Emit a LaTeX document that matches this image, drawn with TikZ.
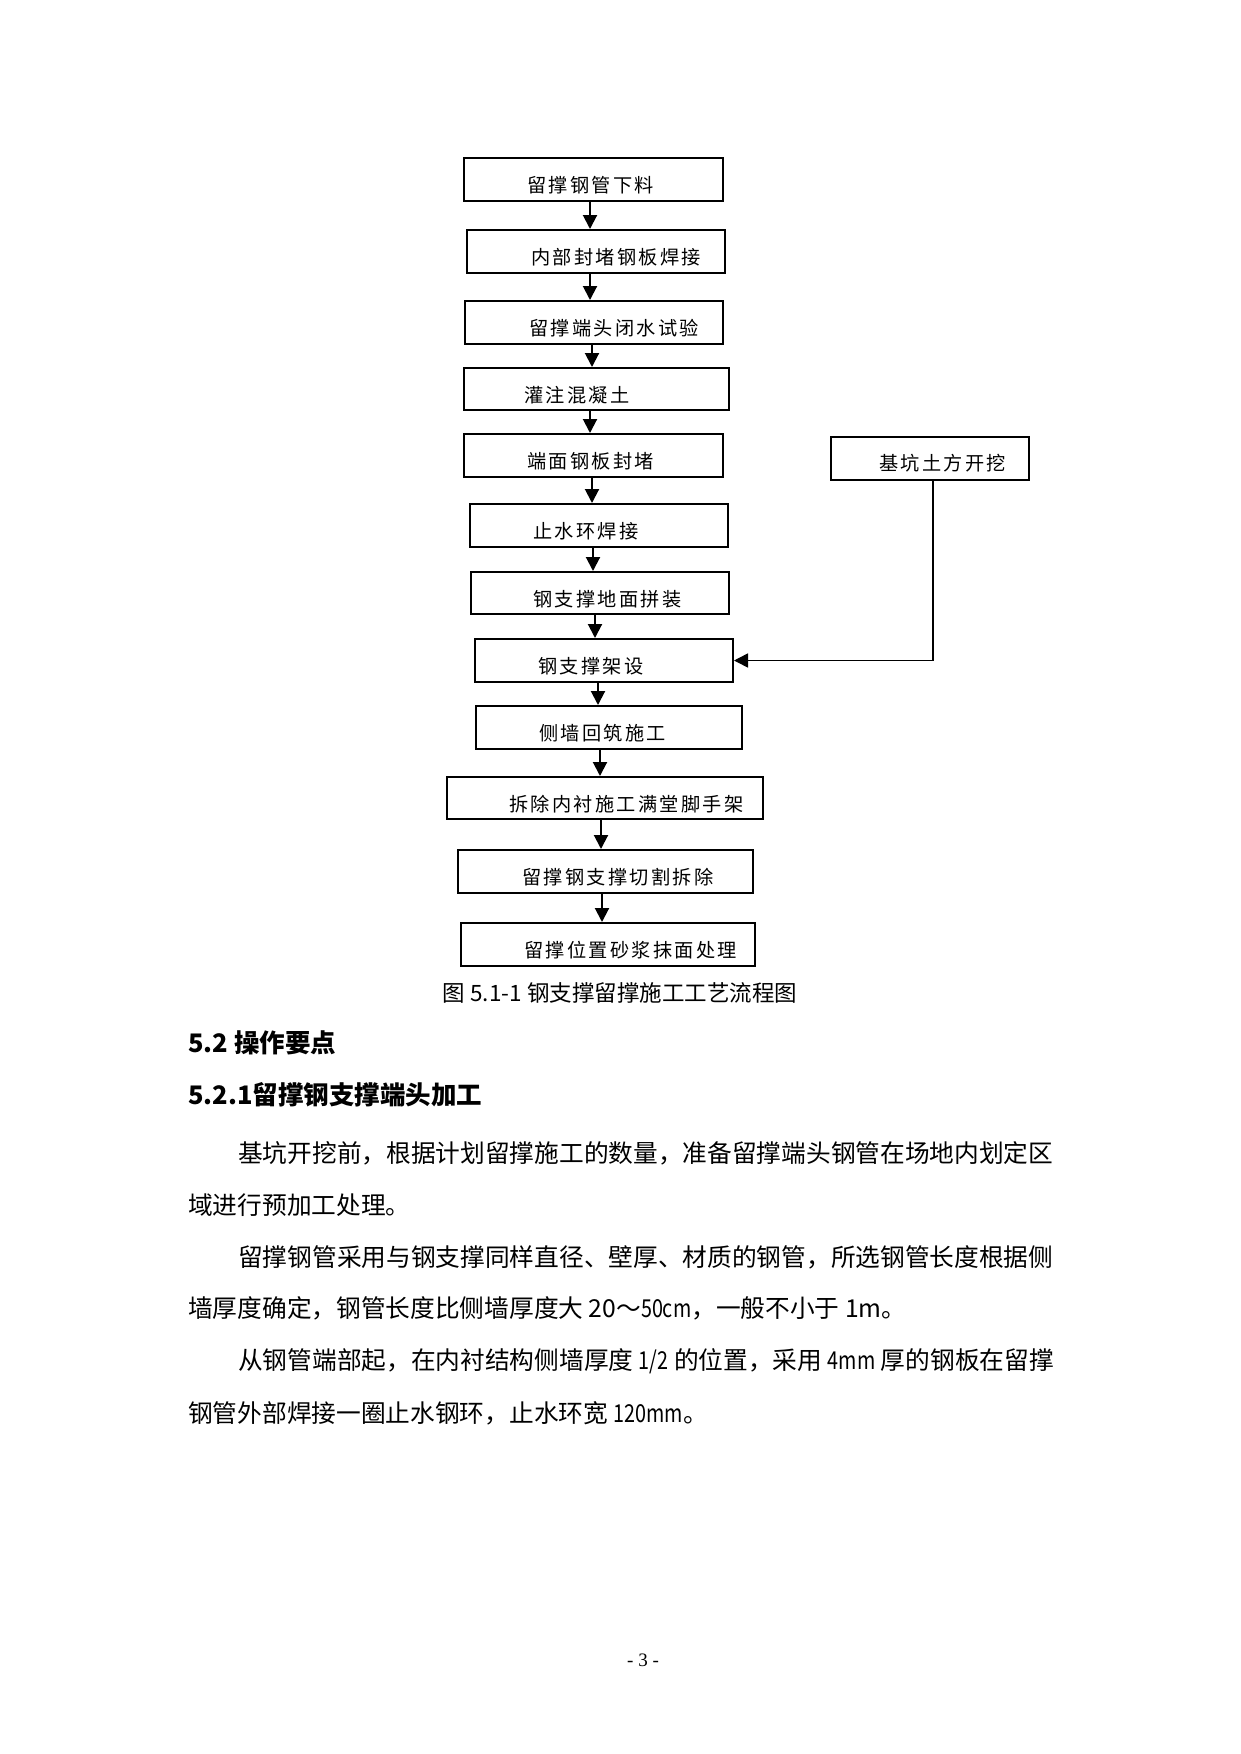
\documentclass[tikz,border=0pt]{standalone}
\usepackage{fontspec}
\setmainfont{Liberation Serif}
\newfontfamily\cjk{Noto Sans CJK SC}
\newfontfamily\cjkwide[LetterSpace=12]{Noto Sans CJK SC}
\usetikzlibrary{arrows.meta,positioning}
\newcommand\nar[1]{\scalebox{0.8}[1]{#1}}
\tikzset{
  stepbox/.style={draw=black,line width=2pt,minimum height=43pt,inner sep=0pt},
  steptxt/.style={anchor=west,inner sep=0pt,font=\cjkwide\fontsize{19.2pt}{24pt}\selectfont},
  flow/.style={-{Triangle[length=14pt,width=14pt]},line width=2pt},
  bodyline/.style={anchor=base west,inner sep=0pt,font=\cjk\fontsize{24.7pt}{30pt}\selectfont},
  headline/.style={anchor=base west,inner sep=0pt,font=\cjk\bfseries\fontsize{25.5pt}{30pt}\selectfont},
}
\begin{document}
\begin{tikzpicture}[x=1pt,y=-1pt]
  \useasboundingbox (0,0) rectangle (1240,1754);
  \fill[white] (0,0) rectangle (1240,1754);
  % main chain
  \node[stepbox,minimum width=259pt] (s1) at (593.5,179.5) {};
  \node[stepbox,minimum width=258pt] (s2) at (596,251.5) {};
  \node[stepbox,minimum width=258pt] (s3) at (594,322.5) {};
  \node[stepbox,minimum width=265pt,minimum height=42pt] (s4) at (596.5,389) {};
  \node[stepbox,minimum width=259pt] (s5) at (593.5,455.5) {};
  \node[stepbox,minimum width=258pt] (s6) at (599,525.5) {};
  \node[stepbox,minimum width=258pt,minimum height=42pt] (s7) at (600,593) {};
  \node[stepbox,minimum width=258pt] (s8) at (604,660.5) {};
  \node[stepbox,minimum width=266pt] (s9) at (609,727.5) {};
  \node[stepbox,minimum width=316pt,minimum height=42pt] (s10) at (605,798) {};
  \node[stepbox,minimum width=295pt] (s11) at (605.5,871.5) {};
  \node[stepbox,minimum width=294pt] (s12) at (608,944.5) {};
  \node[stepbox,minimum width=198pt] (dig) at (930,458.5) {};
  % labels
  \node[steptxt] (t1) at ([xshift=64pt,yshift=-6pt]s1.west) {留撑钢管下料};
  \node[steptxt] (t2) at ([xshift=65pt,yshift=-6pt]s2.west) {内部封堵钢板焊接};
  \node[steptxt] (t3) at ([xshift=65pt,yshift=-6pt]s3.west) {留撑端头闭水试验};
  \node[steptxt] (t4) at ([xshift=61pt,yshift=-6pt]s4.west) {灌注混凝土};
  \node[steptxt] (t5) at ([xshift=64pt,yshift=-6pt]s5.west) {端面钢板封堵};
  \node[steptxt] (t6) at ([xshift=64pt,yshift=-6pt]s6.west) {止水环焊接};
  \node[steptxt] (t7) at ([xshift=63pt,yshift=-6pt]s7.west) {钢支撑地面拼装};
  \node[steptxt] (t8) at ([xshift=64pt,yshift=-6pt]s8.west) {钢支撑架设};
  \node[steptxt] (t9) at ([xshift=64pt,yshift=-6pt]s9.west) {侧墙回筑施工};
  \node[steptxt] (t10) at ([xshift=63pt,yshift=-6pt]s10.west) {拆除内衬施工满堂脚手架};
  \node[steptxt] (t11) at ([xshift=65pt,yshift=-6pt]s11.west) {留撑钢支撑切割拆除};
  \node[steptxt] (t12) at ([xshift=64pt,yshift=-6pt]s12.west) {留撑位置砂浆抹面处理};
  \node[steptxt] (tdig) at ([xshift=49pt,yshift=-5pt]dig.west) {基坑土方开挖};
  \foreach \a/\b/\x in {s1/s2/-3.5,s2/s3/-6,s3/s4/-2,s4/s5/-6.5,s5/s6/-1.5,s6/s7/-6,
                        s7/s8/-5,s8/s9/-6,s9/s10/-9,s10/s11/-4,s11/s12/-3.5}{
    \draw[flow] ([xshift=\x pt]\a.south) -- ([xshift=\x pt]\a.south |- \b.north);
  }
  \draw[flow,line width=1.6pt] ([xshift=3pt]dig.south) |- (s8.east);
  \node[font=\cjk\fontsize{22.5pt}{26pt}\selectfont,inner sep=0pt] (cap) at (620,993) {图 5.1-1 钢支撑留撑施工工艺流程图};
  % text below
  \node[headline] (h1) at (188,1052) {5.2 操作要点};
  \node[headline] (h2) at (188,1104) {5.2.1留撑钢支撑端头加工};
  \node[bodyline] (l1) at (238,1162) {基坑开挖前，根据计划留撑施工的数量，准备留撑端头钢管在场地内划定区};
  \node[bodyline] (l2) at (188,1214) {域进行预加工处理。};
  \node[bodyline] (l3) at (238,1266) {留撑钢管采用与钢支撑同样直径、壁厚、材质的钢管，所选钢管长度根据侧};
  \node[bodyline] (l4) at (188,1317) {墙厚度确定，钢管长度比侧墙厚度大 20～\nar{50cm}，一般不小于 1m。};
  \node[bodyline] (l5) at (238,1369) {从钢管端部起，在内衬结构侧墙厚度 \nar{1/2} 的位置，采用 \nar{4mm} 厚的钢板在留撑};
  \node[bodyline] (l6) at (188,1422) {钢管外部焊接一圈止水钢环，止水环宽 \nar{120mm}。};
  \node[font=\fontsize{19pt}{22pt}\selectfont,inner sep=0pt] (pg) at (643,1660) {- 3 -};
\end{tikzpicture}
\end{document}
